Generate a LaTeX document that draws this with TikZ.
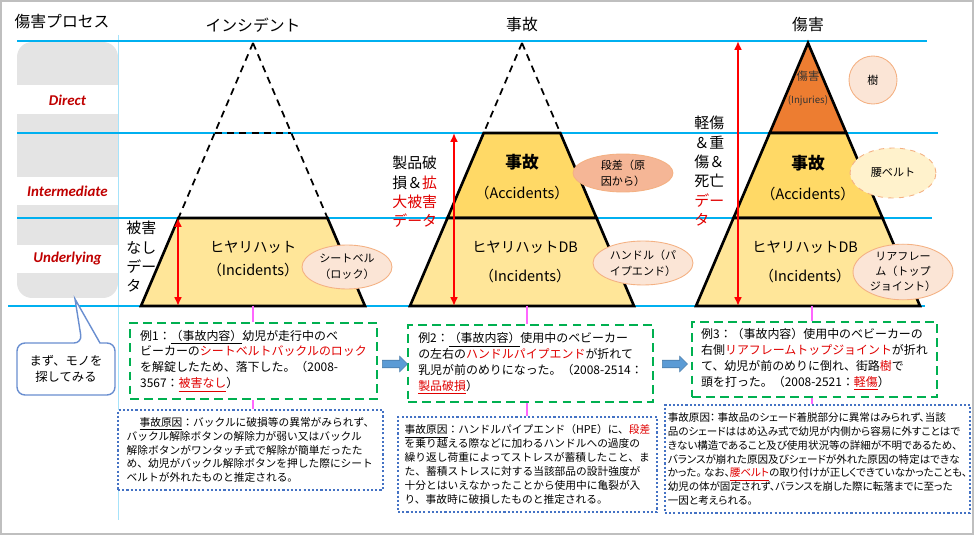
\documentclass[tikz,border=0pt]{standalone}
\usepackage{fontspec}
\setmainfont{Noto Sans CJK JP}
\newfontfamily\latinbi{Carlito}
\newfontfamily\propjp[RawFeature=+palt]{Noto Sans CJK JP}
\usetikzlibrary{shapes.geometric,shapes.arrows,arrows.meta}

\definecolor{lineblue}{HTML}{00B0F0}
\definecolor{boxgray}{HTML}{E4E4E4}
\definecolor{levelred}{HTML}{C00000}
\definecolor{txtred}{HTML}{E00000}
\definecolor{paleyellow}{HTML}{FFE699}
\definecolor{layergold}{HTML}{FFD966}
\definecolor{injury}{HTML}{ED7D31}
\definecolor{peach}{HTML}{FBE5D6}
\definecolor{peachline}{HTML}{F4B183}
\definecolor{salmon}{HTML}{F5B696}
\definecolor{cream}{HTML}{FFF2CC}
\definecolor{exgreen}{HTML}{00B050}
\definecolor{dotblue}{HTML}{4472C4}
\definecolor{arrowblue}{HTML}{5B9BD5}
\definecolor{pinkline}{HTML}{FF66FF}

\newcommand\ttlsize{\fontsize{9}{11}\selectfont}
\newcommand\pyrsize{\fontsize{8.2}{13}\selectfont}
\newcommand\sidesize{\fontsize{8.5}{11}\selectfont}
\newcommand\elsize{\fontsize{6.3}{9}\selectfont}
\newcommand\exsize{\fontsize{6.8}{9}\selectfont}
\newcommand\causesize{\fontsize{6.1}{7.9}\selectfont}

\begin{document}
\begin{tikzpicture}[x=0.02cm, y=-0.02cm,
  hline/.style={draw=lineblue, line width=0.6pt},
  vline/.style={draw=lineblue!35, line width=0.5pt},
  dashline/.style={draw=black, line width=1pt, dash pattern=on 4pt off 3pt},
  pyrlayer/.style={draw=black, line width=1.5pt},
  redarrow/.style={draw=red, line width=1.2pt, {Latex[length=5pt,width=4.5pt]}-{Latex[length=5pt,width=4.5pt]}},
  pyrtxt/.style={align=center, font=\pyrsize, inner sep=0},
  sidetxt/.style={anchor=north west, align=left, font=\sidesize, inner sep=0},
  bubble/.style={ellipse, draw=peachline, line width=0.5pt, fill=peach, font=\elsize, align=center, inner sep=0},
  exbox/.style={draw=exgreen, line width=1.3pt, dash pattern=on 5pt off 3pt, fill=white, align=left, font=\exsize, inner sep=0.1cm},
  causebox/.style={draw=dotblue, line width=1.2pt, dash pattern=on 1.2pt off 1.2pt, fill=white, align=left, font=\causesize, inner sep=0.06cm},
  pinkconn/.style={draw=pinkline, line width=1.2pt},
  blockarrow/.style={single arrow, fill=arrowblue, draw=arrowblue!80!black, line width=0.3pt, minimum height=0.5cm, minimum width=0.3cm, single arrow head extend=0.08cm, inner sep=0.07cm},
  lvl/.style={font=\latinbi\bfseries\itshape\fontsize{8.5}{10}\selectfont, text=levelred},
  ttl/.style={font=\ttlsize}]

\useasboundingbox (0,0) rectangle (975,537);
\draw[black!25, line width=0.8pt] (1,1) rectangle (973,534);

\node[ttl] (procttl) at (62,22) {傷害プロセス};
\fill[boxgray, rounded corners=0.3cm] (17,42) rectangle (118,298);
\fill[white] (17,85) rectangle (118,114);
\fill[white] (17,177) rectangle (118,205);
\fill[white] (17,245) rectangle (118,273);
\node[lvl] (lvdirect) at (67.5,100) {Direct};
\node[lvl] (lvinter) at (67.5,191) {Intermediate};
\node[lvl] (lvunder) at (67.5,259) {Underlying};

\draw[vline] (118,35) -- (118,520);
\draw[hline] (17,41) -- (927,41);
\draw[hline] (17,133) -- (938,133);
\draw[hline] (17,218) -- (932,218);
\draw[hline] (8,306) -- (925,306);

\draw[dotblue!80, fill=white, line width=0.8pt] (75,299) -- (100,343) [rounded corners=0.16cm] -- (115,343) -- (115,395) -- (17,395) -- (17,343) -- (82,343) [sharp corners] -- cycle;
\node[font=\fontsize{7}{9.5}\selectfont, align=center] (calltext) at (66,369) {まず、モノを\\探してみる};

\node[ttl] (ttlinc) at (253,25) {インシデント};
\node[ttl] (ttlacc) at (522,25) {事故};
\node[ttl] (ttlinj) at (808,25) {傷害};

\draw[dashline] (253,43) -- (178.5,218);
\draw[dashline] (253,43) -- (327.5,218);
\draw[dashline] (214.7,133) -- (291.3,133);
\draw[pyrlayer, fill=paleyellow] (178.5,218) -- (327.5,218) -- (365,306) -- (141,306) -- cycle;

\draw[dashline] (522,43) -- (483.7,133);
\draw[dashline] (522,43) -- (560.3,133);
\draw[pyrlayer, fill=layergold] (483.7,133) -- (560.3,133) -- (596.5,218) -- (447.5,218) -- cycle;
\draw[pyrlayer, fill=paleyellow] (447.5,218) -- (596.5,218) -- (634,306) -- (410,306) -- cycle;

\draw[pyrlayer, fill=injury] (808,43) -- (846.3,133) -- (769.7,133) -- cycle;
\draw[pyrlayer, fill=layergold] (769.7,133) -- (846.3,133) -- (882.5,218) -- (733.5,218) -- cycle;
\draw[pyrlayer, fill=paleyellow] (733.5,218) -- (882.5,218) -- (920,306) -- (696,306) -- cycle;

\coordinate (r1a) at (178,218);
\coordinate (r1b) at (178,306);
\coordinate (r2a) at (454,133);
\coordinate (r2b) at (454,306);
\coordinate (r3a) at (738,41);
\coordinate (r3b) at (738,306);
\draw[redarrow] (r1a) -- (r1b);
\draw[redarrow] (r2a) -- (r2b);
\draw[redarrow] (r3a) -- (r3b);

\node[sidetxt] (side1) at (126,221) {被害\\なし\\デー\\タ};
\node[sidetxt] (side2) at (392,156) {製品破\\損＆\textcolor{txtred}{拡}\\\textcolor{txtred}{大被害}\\\textcolor{txtred}{データ}};
\node[sidetxt] (side3) at (694,116) {軽傷\\＆重\\傷＆\\死亡\\\textcolor{txtred}{デー}\\\textcolor{txtred}{タ}};

\node[pyrtxt] (p1bot) at (253,259) {ヒヤリハット\\（Incidents）};
\node[pyrtxt, font=\fontsize{8.2}{17}\selectfont] (p2top) at (522,177) {{\fontsize{9.5}{17}\selectfont\bfseries 事故}\\（Accidents）};
\node[pyrtxt, font=\fontsize{8.2}{16.4}\selectfont] (p2bot) at (525,262) {ヒヤリハットDB\\（Incidents）};
\node[pyrtxt, font=\fontsize{6.5}{13}\selectfont, text=black!80] (p3top) at (808,88) {傷害\\{\fontsize{5.5}{13}\selectfont(Injuries)}};
\node[pyrtxt, font=\fontsize{8.2}{17}\selectfont] (p3mid) at (808,178) {{\fontsize{9.5}{17}\selectfont\bfseries 事故}\\（Accidents）};
\node[pyrtxt, font=\fontsize{8.2}{16.4}\selectfont] (p3bot) at (805,262) {ヒヤリハットDB\\（Incidents）};

\node[bubble, minimum width=1.8cm, minimum height=0.88cm] (seatbelt) at (347,267) {シートベル\\（ロック）};
\node[bubble, fill=salmon, minimum width=2cm, minimum height=0.76cm] (step) at (623,173) {段差（原\\因から）};
\node[bubble, minimum width=2cm, minimum height=0.88cm] (handle) at (643,263) {ハンドル（パ\\イプエンド）};
\node[bubble, minimum width=0.96cm, minimum height=0.96cm] (tree) at (873,80) {樹};
\node[bubble, fill=cream, dashed, minimum width=1.72cm, minimum height=1cm] (waistbelt) at (893,173) {腰ベルト};
\node[bubble, font=\fontsize{6.3}{8.5}\selectfont, minimum width=2cm, minimum height=0.96cm] (rearframe) at (903,272) {リアフレー\\ム（トップ\\ジョイント）};

\node[exbox, minimum width=4.94cm, minimum height=1.52cm] (ex1) at (253.5,361) {例1：\underline{（事故内容）}幼児が走行中のベ\\ビーカーの\textcolor{txtred}{シートベルトバックルのロック}\\を解錠したため、落下した。（2008-\\3567：\textcolor{txtred}{\underline{被害なし}}）};
\node[exbox, minimum width=4.9cm, minimum height=1.54cm] (ex2) at (530.5,363.5) {例2：\underline{（事故内容）}使用中のベビーカー\\の左右の\textcolor{txtred}{ハンドルパイプエンド}が折れて\\乳児が前のめりになった。（2008-2514：\\\textcolor{txtred}{\underline{製品破損}}）};
\node[exbox, minimum width=4.9cm, minimum height=1.5cm] (ex3) at (814.5,359.5) {例3：（事故内容）使用中のベビーカーの\\右側\textcolor{txtred}{リアフレームトップジョイント}が折れ\\て、幼児が前のめりに倒れ、街路\textcolor{txtred}{樹}で\\頭を打った。（2008-2521：\textcolor{txtred}{\underline{軽傷}}）};

\node[blockarrow] (arr1) at (393,364) {};
\node[blockarrow] (arr2) at (673,364) {};

\node[causebox, minimum width=5.3cm, minimum height=1.6cm] (cause1) at (250.5,450) {\hspace{1.2em}\underline{事故原因}：バックルに破損等の異常がみられず、\\バックル解除ボタンの解除力が弱い又はバックル\\解除ボタンがワンタッチ式で解除が簡単だったた\\め、幼児がバックル解除ボタンを押した際にシート\\ベルトが外れたものと推定される。};
\node[causebox, minimum width=5.18cm, minimum height=1.9cm] (cause2) at (527.5,464.5) {\underline{事故原因}：ハンドルパイプエンド（HPE）に、\textcolor{txtred}{段差}\\を乗り越える際などに加わるハンドルへの過度の\\繰り返し荷重によってストレスが蓄積したこと、ま\\た、蓄積ストレスに対する当該部品の設計強度が\\十分とはいえなかったことから使用中に亀裂が入\\り、事故時に破損したものと推定される。};
\node[causebox, font=\propjp\fontsize{6}{7.9}\selectfont, minimum width=6.1cm, minimum height=2.16cm] (cause3) at (817.5,459) {事故原因：\ 事故品のシェード着脱部分に異常はみられず、当該\\品のシェードははめ込み式で幼児が内側から容易に外すことはで\\きない構造であること及び使用状況等の詳細が不明であるため、\\バランスが崩れた原因及びシェードが外れた原因の特定はできな\\かった。\ なお、\textcolor{txtred}{\underline{腰ベルト}}の取り付けが正しくできていなかったことも、\\幼児の体が固定されず、バランスを崩した際に転落までに至った\\一因と考えられる。};

\coordinate (base1) at (253,306);
\coordinate (base2) at (527,306);
\coordinate (base3) at (812,306);
\draw[pinkconn] (base1) -- (base1 |- ex1.north);
\draw[pinkconn] (base2) -- (base2 |- ex2.north);
\draw[pinkconn] (base3) -- (base3 |- ex3.north);
\draw[pinkconn] (base1 |- ex1.south) -- (base1 |- cause1.north);
\draw[pinkconn] (base2 |- ex2.south) -- (base2 |- cause2.north);
\draw[pinkconn] (base3 |- ex3.south) -- (base3 |- cause3.north);

\end{tikzpicture}
\end{document}
